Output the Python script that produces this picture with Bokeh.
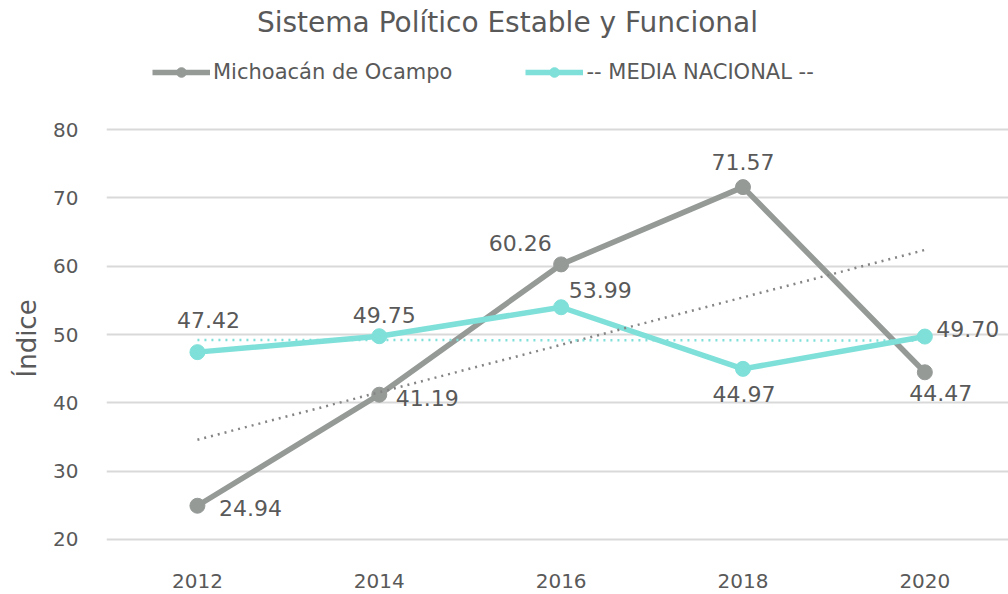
import numpy as np
from bokeh.plotting import figure
from bokeh.models import ColumnDataSource, Legend, LegendItem, Range1d, FixedTicker, Label, Title
from bokeh.core.properties import value
from bokeh.embed import file_html
from bokeh.resources import INLINE

years = [2012, 2014, 2016, 2018, 2020]
michoacan = [24.94, 41.19, 60.26, 71.57, 44.47]
media = [47.42, 49.75, 53.99, 44.97, 49.70]
y_ticks = [20, 30, 40, 50, 60, 70, 80]
title_text = "Sistema Político Estable y Funcional"
y_label = "Índice"
name_m = "Michoacán de Ocampo"
name_n = "-- MEDIA NACIONAL --"

# label pixel offsets (screen, y down positive)
m_dx = [53, 48, -41, 0, 16]
m_dy = [2, 3, -21, -25, 21]
n_dx = [11, 5, 39, 1, 43]
n_dy = [-32, -21, -17, 25, -8]

FONT = "DejaVu Sans"
TEXT = "#595959"
GRAY = "#959A97"
CYAN = "#7EE0D9"

X0, X1 = 2011.0, 2020.92
Y0, Y1 = 18.39, 98.88
W_FRAME = 1008 - 106
H_FRAME = 550

p = figure(width=1008, height=594, output_backend="svg", toolbar_location=None,
           x_range=Range1d(X0, X1), y_range=Range1d(Y0, Y1),
           min_border_left=106, min_border_right=0, min_border_top=0,
           min_border_bottom=44, outline_line_color=None)

# title placed in the empty top band of the frame
tx = X0 + (507 - 106) / W_FRAME * (X1 - X0)
ty = Y1 - 22 / H_FRAME * (Y1 - Y0)
p.add_layout(Label(x=tx, y=ty, text=title_text, text_align="center", text_baseline="middle",
                   text_font=FONT, text_font_size="28px", text_color=TEXT))

src_m = ColumnDataSource(dict(x=years, y=michoacan, lab=["%.2f" % v for v in michoacan], dx=m_dx, dy=m_dy))
src_n = ColumnDataSource(dict(x=years, y=media, lab=["%.2f" % v for v in media], dx=n_dx, dy=n_dy))

# linear trendlines
xs = np.array(years, dtype=float)
cm = np.polyfit(xs, michoacan, 1)
cn = np.polyfit(xs, media, 1)

lm = p.line("x", "y", source=src_m, line_color=GRAY, line_width=5.5)
sm = p.scatter("x", "y", source=src_m, size=15, fill_color=GRAY, line_color=GRAY)
ln = p.line("x", "y", source=src_n, line_color=CYAN, line_width=5.5)
sn = p.scatter("x", "y", source=src_n, size=15, fill_color=CYAN, line_color=CYAN)

p.line([xs[0], xs[-1]], list(np.polyval(cm, [xs[0], xs[-1]])), line_color="#858585", line_width=2.5, line_dash="2 5")
p.line([xs[0], xs[-1]], list(np.polyval(cn, [xs[0], xs[-1]])), line_color=CYAN, line_width=2.5, line_dash="2 5")

p.text("x", "y", text="lab", source=src_m, x_offset="dx", y_offset="dy", text_align="center",
       text_baseline="middle", text_font=value(FONT), text_font_size="22px", text_color=TEXT)
p.text("x", "y", text="lab", source=src_n, x_offset="dx", y_offset="dy", text_align="center",
       text_baseline="middle", text_font=value(FONT), text_font_size="22px", text_color=TEXT)

legend = Legend(items=[LegendItem(label=name_m, renderers=[lm, sm]),
                       LegendItem(label=name_n, renderers=[ln, sn])],
                orientation="horizontal", location=(46, H_FRAME - 72 - 12), glyph_width=58, glyph_height=24,
                label_text_font=FONT, label_text_font_size="21px", label_text_color=TEXT,
                spacing=73, label_standoff=3, padding=0, margin=0,
                border_line_color=None, background_fill_alpha=0)
p.add_layout(legend, "center")

p.xaxis.ticker = FixedTicker(ticks=years)
p.yaxis.ticker = FixedTicker(ticks=y_ticks)
for ax in (p.xaxis, p.yaxis):
    ax.axis_line_color = None
    ax.major_tick_line_color = None
    ax.minor_tick_line_color = None
    ax.major_label_text_font = FONT
    ax.major_label_text_font_size = "20px"
    ax.major_label_text_color = TEXT
p.xaxis.major_label_standoff = 17
p.yaxis.major_label_standoff = 22
p.xgrid.grid_line_color = None
p.ygrid.grid_line_color = "#D9D9D9"
p.ygrid.grid_line_width = 2

# y-axis title, positioned along the left side (offset from frame bottom)
p.add_layout(Title(text=y_label, align="left", offset=173, text_font=FONT, text_font_size="26px",
                   text_font_style="normal", text_color=TEXT, standoff=18), "left")

open("out.html", "w").write(file_html(p, INLINE))
